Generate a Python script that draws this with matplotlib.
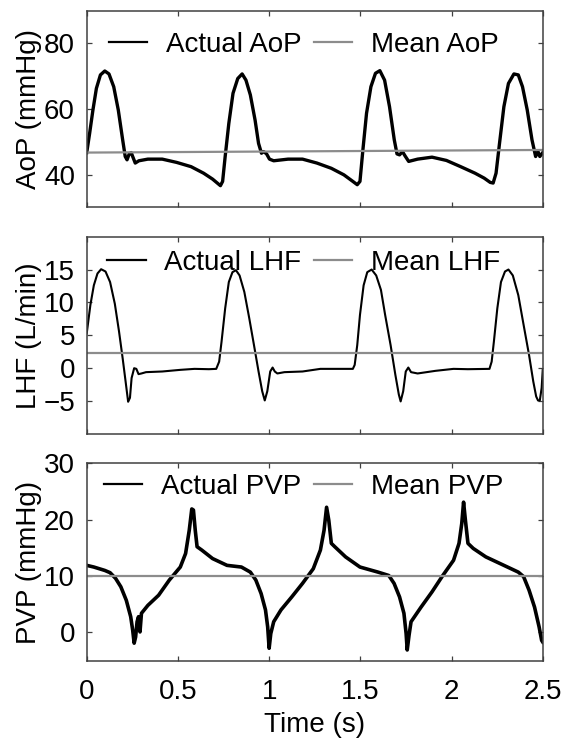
import numpy as np
import matplotlib
matplotlib.use("Agg")
import matplotlib.pyplot as plt

plt.rcParams['font.family'] = ['Liberation Sans', 'DejaVu Sans']

# values
aop_t = [0.000, 0.016, 0.034, 0.053, 0.075, 0.099, 0.122, 0.148, 0.173, 0.197, 0.211, 0.221, 0.233, 0.244, 0.252, 0.266,
         0.286, 0.335, 0.414, 0.493, 0.572, 0.641, 0.690, 0.720, 0.733, 0.745, 0.759, 0.779, 0.802, 0.828, 0.852, 0.873,
         0.897, 0.923, 0.942, 0.958, 0.970, 0.986, 1.002, 1.025, 1.104, 1.183, 1.262, 1.341, 1.410, 1.459, 1.483, 1.498,
         1.514, 1.534, 1.558, 1.583, 1.607, 1.633, 1.660, 1.686, 1.701, 1.715, 1.731, 1.745, 1.765, 1.814, 1.893, 1.972,
         2.050, 2.129, 2.179, 2.212, 2.228, 2.244, 2.263, 2.287, 2.312, 2.342, 2.366, 2.389, 2.415, 2.441, 2.461, 2.474,
         2.484, 2.500]
aop_v = [46.7, 52.6, 59.7, 66.3, 70.4, 71.6, 70.7, 66.8, 59.7, 50.6, 45.5, 44.5, 46.3, 46.7, 45.5, 43.5,
         44.2, 44.7, 44.7, 43.7, 42.4, 40.4, 38.6, 37.2, 36.6, 37.9, 45.5, 55.6, 64.8, 69.3, 70.7, 68.8,
         64.3, 56.6, 49.5, 46.5, 47.0, 46.3, 44.7, 44.2, 44.7, 44.7, 43.5, 41.9, 39.9, 37.9, 36.9, 37.9,
         47.5, 58.7, 66.8, 70.9, 71.7, 68.8, 60.7, 50.6, 46.3, 46.0, 47.0, 45.7, 44.0, 44.7, 45.3, 44.3,
         42.4, 40.4, 38.9, 37.6, 37.4, 40.4, 49.5, 60.7, 67.8, 70.7, 70.4, 66.8, 59.7, 50.6, 45.5, 47.0,
         45.5, 46.7]
aop_mean_t = [0.0, 2.5]
aop_mean_v = [46.7, 47.5]

lhf_t = [0.000, 0.020, 0.039, 0.059, 0.079, 0.103, 0.128, 0.154, 0.177, 0.197, 0.213, 0.227, 0.237, 0.246, 0.260, 0.272,
         0.284, 0.300, 0.325, 0.414, 0.513, 0.591, 0.670, 0.710, 0.726, 0.739, 0.759, 0.779, 0.799, 0.818, 0.838, 0.864,
         0.891, 0.917, 0.942, 0.962, 0.976, 0.990, 1.006, 1.019, 1.031, 1.045, 1.084, 1.183, 1.281, 1.380, 1.459, 1.469,
         1.483, 1.498, 1.518, 1.538, 1.562, 1.587, 1.613, 1.636, 1.666, 1.692, 1.711, 1.721, 1.735, 1.749, 1.763, 1.778,
         1.814, 1.912, 2.011, 2.090, 2.208, 2.220, 2.232, 2.251, 2.271, 2.293, 2.312, 2.336, 2.366, 2.395, 2.425, 2.448,
         2.464, 2.474, 2.484, 2.494, 2.500]
lhf_v = [5.3, 9.6, 12.6, 14.4, 15.05, 14.7, 13.1, 9.8, 5.6, 1.5, -2.0, -5.1, -4.5, -1.5, 0.0, -0.1,
         -0.9, -0.8, -0.6, -0.5, -0.25, -0.1, -0.15, -0.1, 1.0, 4.0, 9.1, 13.1, 14.6, 14.9, 14.1, 11.6,
         7.6, 3.5, -0.5, -3.5, -4.9, -3.5, -0.5, 0.1, -0.5, -0.8, -0.6, -0.5, -0.1, -0.1, -0.1, 0.5,
         3.5, 8.1, 12.6, 14.6, 15.0, 14.1, 11.9, 8.1, 3.5, -1.0, -4.0, -5.05, -3.5, -0.5, 0.1, -0.6,
         -0.8, -0.4, -0.1, -0.15, -0.1, 1.0, 4.0, 9.1, 13.1, 14.7, 15.0, 14.1, 11.1, 6.6, 2.0, -2.0,
         -4.3, -4.9, -4.9, -3.0, -0.25]
lhf_mean_t = [0.0, 2.5]
lhf_mean_v = [2.36, 2.36]

pvp_t = [0.000, 0.039, 0.099, 0.128, 0.158, 0.187, 0.217, 0.241, 0.252, 0.260, 0.268, 0.276, 0.284, 0.292, 0.300, 0.335,
         0.394, 0.453, 0.513, 0.542, 0.562, 0.576, 0.585, 0.595, 0.605, 0.631, 0.690, 0.769, 0.848, 0.897, 0.927, 0.956,
         0.980, 0.992, 1.000, 1.009, 1.025, 1.065, 1.124, 1.183, 1.242, 1.281, 1.301, 1.315, 1.327, 1.341, 1.360, 1.419,
         1.498, 1.597, 1.656, 1.685, 1.715, 1.739, 1.751, 1.757, 1.767, 1.778, 1.833, 1.893, 1.952, 2.011, 2.041, 2.056,
         2.066, 2.076, 2.090, 2.119, 2.188, 2.287, 2.366, 2.395, 2.425, 2.455, 2.480, 2.494, 2.500]
pvp_v = [11.9, 11.6, 11.0, 10.6, 9.6, 8.1, 5.7, 2.8, 0.4, -1.9, -0.8, 1.9, 2.8, 0.1, 3.4, 4.8,
         6.6, 9.3, 11.6, 14.0, 18.1, 21.9, 21.7, 18.1, 15.2, 14.6, 13.1, 11.9, 11.6, 10.7, 9.3, 6.9,
         4.0, 1.0, -2.8, -0.2, 1.9, 4.0, 6.3, 8.7, 11.3, 14.6, 18.1, 22.2, 19.9, 15.8, 15.2, 13.4,
         11.6, 10.7, 10.1, 8.7, 6.3, 3.4, -0.2, -3.1, -0.5, 1.9, 4.5, 7.2, 10.1, 12.8, 15.8, 19.3,
         23.1, 19.9, 15.8, 14.9, 13.4, 11.9, 10.7, 9.9, 7.5, 4.5, 1.0, -1.4, -1.7]
pvp_mean_t = [0.0, 2.5]
pvp_mean_v = [10.0, 10.0]

panels = [
    (aop_t, aop_v, aop_mean_t, aop_mean_v, 'AoP (mmHg)', 'Actual AoP', 'Mean AoP', (30, 90), [40, 60, 80], 2.4, 0.827),
    (lhf_t, lhf_v, lhf_mean_t, lhf_mean_v, 'LHF (L/min)', 'Actual LHF', 'Mean LHF', (-10, 20), [-5, 0, 5, 10, 15], 1.5, 0.867),
    (pvp_t, pvp_v, pvp_mean_t, pvp_mean_v, 'PVP (mmHg)', 'Actual PVP', 'Mean PVP', (-5, 30), [0, 10, 20, 30], 2.6, 0.881),
]

# axes boxes in figure fraction (left, bottom, width, height)
boxes = [(0.1535, 0.7210, 0.8071, 0.2646),
         (0.1535, 0.4159, 0.8071, 0.2656),
         (0.1535, 0.1108, 0.8071, 0.2657)]

fig = plt.figure(figsize=(5.65, 7.43), dpi=100)
gray = '#8c8c8c'
fs = 20

for i, (t, v, mt, mv, ylab, lab1, lab2, ylim, yt, lw, legy) in enumerate(panels):
    ax = fig.add_axes(boxes[i])
    ax.plot(t, v, color='black', linewidth=lw, label=lab1, solid_joinstyle='round')
    ax.plot(mt, mv, color=gray, linewidth=1.6, label=lab2)
    ax.set_xlim(0, 2.5)
    ax.set_ylim(*ylim)
    ax.set_yticks(yt)
    ax.set_xticks([0, 0.5, 1, 1.5, 2, 2.5])
    ax.set_xticklabels(['0', '0.5', '1', '1.5', '2', '2.5'])
    ax.tick_params(direction='in', top=True, right=True, length=3.6, width=0.9,
                   color='#404040', labelsize=fs)
    ax.tick_params(axis='y', pad=8.5)
    ax.tick_params(axis='x', pad=13)
    for s in ax.spines.values():
        s.set_color('#404040')
        s.set_linewidth(1.1)
    ax.set_ylabel(ylab, fontsize=fs)
    ax.yaxis.set_label_coords(-0.098, 0.5)
    if i < 2:
        ax.tick_params(labelbottom=False)
    else:
        ax.set_xlabel('Time (s)', fontsize=fs, labelpad=5)
    leg = ax.legend(loc='center', bbox_to_anchor=(0.476, legy), ncol=2, frameon=False,
                    fontsize=fs, handlelength=1.38, handletextpad=0.68, columnspacing=0.45,
                    borderpad=0.1)
    for h in leg.get_lines():
        h.set_linewidth(1.6)

fig.savefig('out.png', dpi=100)
